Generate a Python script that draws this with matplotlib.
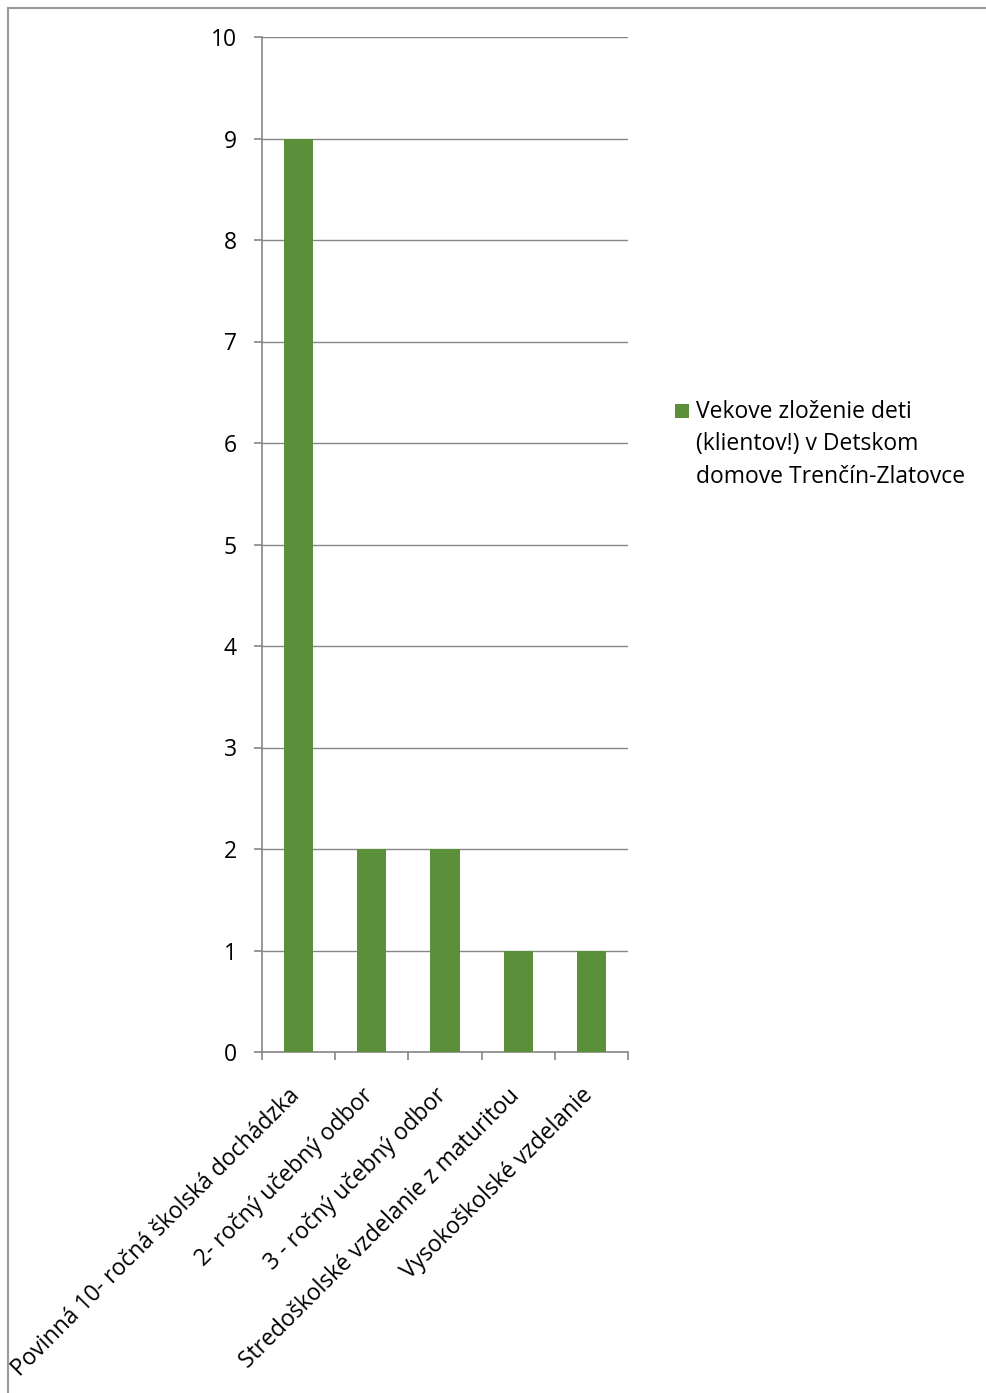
import matplotlib
matplotlib.use("Agg")
import matplotlib.pyplot as plt
from matplotlib.lines import Line2D
from matplotlib.patches import Rectangle
import numpy as np

categories = ["Povinná 10- ročná školská dochádzka", "2- ročný učebný odbor",
              "3 - ročný učebný odbor", "Stredoškolské vzdelanie z maturitou",
              "Vysokoškolské vzdelanie"]
values = [9, 2, 2, 1, 1]
series_name_lines = ["Vekove zloženie deti", "(klientov!) v Detskom", "domove Trenčín-Zlatovce"]
yticks = [0, 1, 2, 3, 4, 5, 6, 7, 8, 9, 10]

plt.rcParams['font.family'] = ['Open Sans', 'DejaVu Sans']
W, H = 986, 1393
fig = plt.figure(figsize=(W/100, H/100), dpi=100)
ax = fig.add_axes([262/W, 1 - 1052/H, (628-262)/W, (1052-37)/H])

green = "#5B8F3A"
grid_c = "#868686"
FS = 16.5
x = np.arange(len(categories))
ax.bar(x, values, width=0.4, color=green, zorder=3)
ax.set_xlim(-0.5, len(categories) - 0.5)
ax.set_ylim(0, 10)
ax.set_yticks(yticks)
ax.set_yticklabels([str(t) for t in yticks], fontsize=FS)
ax.yaxis.grid(True, color=grid_c, linewidth=1)
ax.set_axisbelow(True)
for s in ["top", "right"]:
    ax.spines[s].set_visible(False)
for s in ["left", "bottom"]:
    ax.spines[s].set_color(grid_c)
    ax.spines[s].set_linewidth(1.2)
ax.tick_params(axis='y', length=6, color=grid_c, width=1.2, pad=12)
ax.set_xticks(np.arange(-0.5, len(categories), 1.0))
ax.set_xticklabels([])
ax.tick_params(axis='x', length=6, color=grid_c, width=1.2)
for xi, lab in zip(x, categories):
    ax.annotate(lab, xy=(xi, 0), xycoords='data', xytext=(-2, -40),
                textcoords='offset pixels', rotation=45, rotation_mode='anchor',
                ha='right', va='center', fontsize=FS)

# legend
fig.add_artist(Rectangle((675/W, 1 - 418/H), 14/W, 14/H, transform=fig.transFigure,
                         facecolor=green, edgecolor='none'))
for i, line in enumerate(series_name_lines):
    fig.text(696/W, 1 - (418 + 32.5*i)/H, line, fontsize=FS, ha='left', va='baseline')

fig.add_artist(Line2D([8/W, 1], [1 - 8/H, 1 - 8/H], color="#9a9a9a", linewidth=1.5))
fig.add_artist(Line2D([8/W, 8/W], [0, 1 - 8/H], color="#9a9a9a", linewidth=1.5))

fig.savefig("out.png", dpi=100)
